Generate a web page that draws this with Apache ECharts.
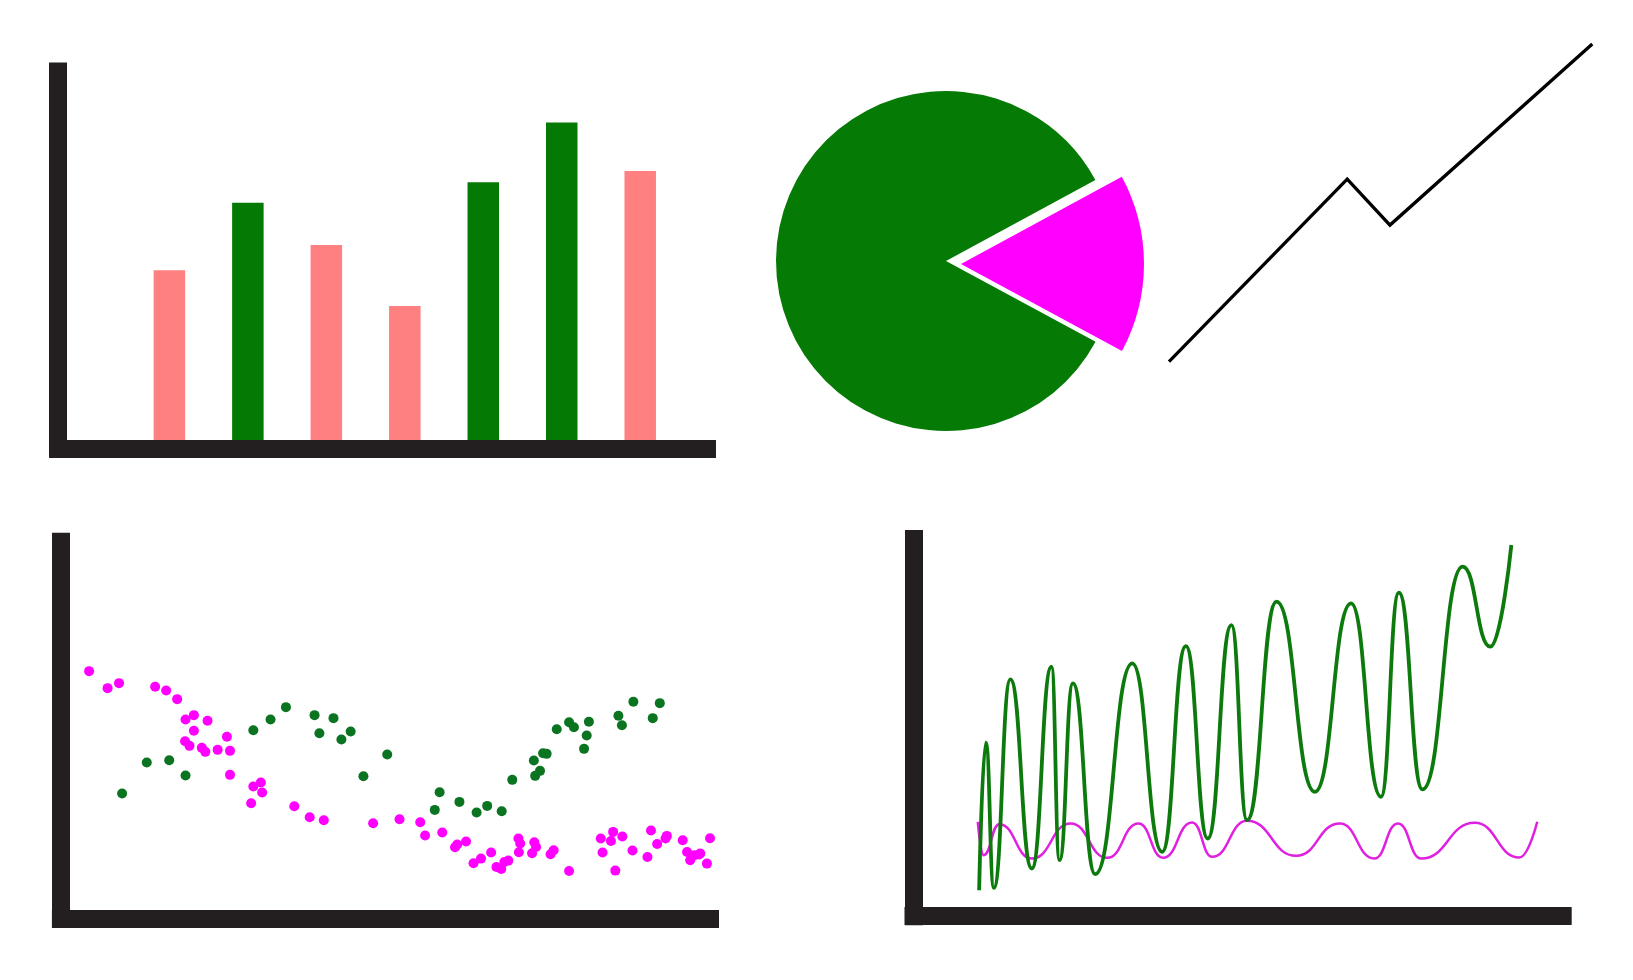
<!DOCTYPE html>
<html>
<head>
<meta charset="utf-8">
<script src="https://cdn.jsdelivr.net/npm/echarts@6/dist/echarts.min.js"></script>
<style>
  html, body { margin: 0; padding: 0; background: #ffffff; }
  #chart { width: 1633px; height: 980px; }
</style>
</head>
<body>
<div id="chart"></div>
<script>
// ---------- DATA ----------
// Bar chart (top-left)
const barIndex  = [1, 2, 3, 4, 5, 6, 7];
const barValues = [47.3, 65.2, 54.0, 37.8, 70.6, 86.5, 73.6];
const barGroups = ['A', 'B', 'A', 'A', 'B', 'B', 'A'];

// Pie chart (top-middle)
const pieNames  = ['Magenta share', 'Green share'];
const pieValues = [15.8, 84.2];

// Trend line (top-right)
const trendX = [0, 42.1, 52.2, 100];
const trendY = [0, 57.5, 43.0, 100];

// Scatter (bottom-left)
const pinkX = [6.4,10.6,13.2,21.4,23.9,26.4,28.3,30.2,33.3,30.2,28.2,29.2,32.0,32.8,35.6,37.7,38.4,38.4,43.7,45.4,45.7,43.2,53.0,56.5,59.7,70.9,76.9,81.6,82.7,86.6,89.5,90.0,92.0,93.7,95.4,97.7,98.9,100.0,100.7,101.6,103.9,104.3,104.0,107.0,107.5,107.9,111.2,111.9,115.4,122.6,123.0,124.9,125.4,127.5,125.9,129.8,133.2,134.0,135.4,137.3,137.6,141.2,142.2,142.9,143.9,145.2,144.9,146.7,147.4];
const pinkY = [74.1,69.0,70.5,69.4,68.3,65.7,59.6,60.9,59.2,56.2,53.1,51.7,51.1,49.9,50.5,54.4,50.2,43.0,39.5,40.7,37.7,34.5,33.6,30.3,29.4,28.5,29.7,28.8,24.8,25.7,21.3,22.1,23.0,16.5,17.9,19.7,15.4,14.8,16.9,17.3,23.9,22.4,19.8,19.5,22.8,21.4,19.2,20.4,14.2,23.9,19.7,23.2,25.9,24.5,14.3,20.3,18.4,26.3,22.3,23.9,24.7,23.4,19.9,17.4,18.9,19.4,19.1,16.4,24.0];
const greenX = [13.9,19.5,24.6,28.3,43.7,47.6,51.1,57.6,58.7,61.9,63.7,65.8,68.7,74.1,84.9,86.0,90.5,94.4,96.8,100.1,102.5,107.4,107.7,108.8,109.5,110.3,112.6,115.4,116.5,118.8,119.4,119.9,126.6,127.4,130.0,134.4,136.0];
const greenY = [37.4,46.7,47.4,42.8,56.4,59.6,63.3,60.9,55.5,60.0,53.6,56.0,42.6,49.1,32.5,37.8,34.9,31.7,33.7,32.1,41.5,47.3,42.7,44.2,49.5,49.3,56.7,58.8,57.3,50.8,54.8,58.9,60.7,57.9,64.9,60.0,64.5];

// Waves (bottom-right)
const waveGreenX = [14.6,16.1,17.9,21.6,26.4,30.8,32.6,35.6,40.6,48.9,55.6,60.9,65.8,71.1,74.6,81.2,89.8,97.9,104.6,108.6,113.9,122.9,129.1,133.8];
const waveGreenY = [7.8,52.0,8.5,71.0,14.3,74.8,16.8,69.8,12.6,75.8,19.3,81.0,23.3,87.3,28.8,94.3,37.3,93.8,35.8,97.0,38.0,104.8,80.8,111.3];
const wavePinkX = [14.3,15.6,19.1,26.4,35.1,43.3,50.3,55.8,62.3,66.8,74.6,85.6,95.4,103.1,108.4,113.6,125.6,135.6,139.6];
const wavePinkY = [28.3,18.3,27.6,17.3,27.8,17.5,27.8,17.5,28.1,17.8,28.6,18.1,27.8,17.3,27.8,17.3,28.0,17.6,28.3];

// ---------- STYLE ----------
const AXIS_COLOR = '#231f20';
const groupColors = { A: '#ff8080', B: '#047a04' };

function zip(xs, ys) { return xs.map((x, i) => [x, ys[i]]); }

function thickAxis(gridIndex, min, max, visible) {
  return {
    type: 'value', gridIndex, min, max, z: 10,
    axisLine: visible ? { show: true, onZero: false,
      lineStyle: { color: AXIS_COLOR, width: 18, cap: 'square' } } : { show: false },
    axisTick: { show: false }, axisLabel: { show: false }, splitLine: { show: false }
  };
}

const option = {
  backgroundColor: '#ffffff',
  animation: false,
  grid: [
    { left: 58.2, top: 71.5, width: 707 - 58.2, height: 448.5 - 71.5, outerBoundsMode: 'none' },
    { left: 1169, top: 44, width: 1592.3 - 1169, height: 361.7 - 44, outerBoundsMode: 'none' },
    { left: 60.9, top: 541.7, width: 710 - 60.9, height: 918.3 - 541.7, outerBoundsMode: 'none' },
    { left: 913.5, top: 539, width: 1562.7 - 913.5, height: 916.2 - 539, outerBoundsMode: 'none' }
  ],
  xAxis: [
    thickAxis(0, -0.417, 7.851, true),
    thickAxis(1, 0, 100, false),
    thickAxis(2, 0, 147.4, true),
    thickAxis(3, -0.1, 145.3, true)
  ],
  yAxis: [
    thickAxis(0, 0, 100, true),
    thickAxis(1, 0, 100, false),
    thickAxis(2, 0, 112.9, true),
    thickAxis(3, 0, 113.1, true)
  ],
  series: [
    {
      type: 'bar', xAxisIndex: 0, yAxisIndex: 0, barWidth: 31.5,
      data: barIndex.map((x, i) => ({ value: [x, barValues[i]], itemStyle: { color: groupColors[barGroups[i]] } })),
      emphasis: { disabled: true }
    },
    {
      type: 'pie', center: [946, 261], radius: 170, startAngle: 28.5, clockwise: true,
      label: { show: false }, labelLine: { show: false }, emphasis: { disabled: true },
      silent: true,
      data: [
        { name: pieNames[0], value: pieValues[0], itemStyle: { color: 'rgba(0,0,0,0)' } },
        { name: pieNames[1], value: pieValues[1], itemStyle: { color: '#057a05' } }
      ]
    },
    {
      type: 'pie', center: [946, 264], radius: 183, startAngle: 28.5, clockwise: true,
      selectedMode: 'single', selectedOffset: 15,
      label: { show: false }, labelLine: { show: false }, emphasis: { disabled: true },
      data: [
        { name: pieNames[0], value: pieValues[0], selected: true, itemStyle: { color: '#ff00ff' } },
        { name: pieNames[1], value: pieValues[1], itemStyle: { color: 'rgba(0,0,0,0)' } }
      ]
    },
    {
      type: 'line', xAxisIndex: 1, yAxisIndex: 1, symbol: 'none',
      lineStyle: { color: '#000000', width: 3.3, join: 'miter' },
      data: zip(trendX, trendY)
    },
    {
      type: 'scatter', xAxisIndex: 2, yAxisIndex: 2, symbolSize: 10, clip: false,
      itemStyle: { color: '#ff00ff', opacity: 1 }, data: zip(pinkX, pinkY)
    },
    {
      type: 'scatter', xAxisIndex: 2, yAxisIndex: 2, symbolSize: 10, clip: false,
      itemStyle: { color: '#0b7420', opacity: 1 }, data: zip(greenX, greenY)
    },
    {
      type: 'line', xAxisIndex: 3, yAxisIndex: 3, symbol: 'none', smooth: true, smoothMonotone: 'x',
      lineStyle: { color: '#e020e0', width: 2.5 }, data: zip(wavePinkX, wavePinkY)
    },
    {
      type: 'line', xAxisIndex: 3, yAxisIndex: 3, symbol: 'none', smooth: true, smoothMonotone: 'x',
      lineStyle: { color: '#0d7a0d', width: 3.8 }, data: zip(waveGreenX, waveGreenY)
    }
  ]
};

const chart = echarts.init(document.getElementById('chart'), null, { renderer: 'canvas' });
chart.setOption(option);
</script>
</body>
</html>
